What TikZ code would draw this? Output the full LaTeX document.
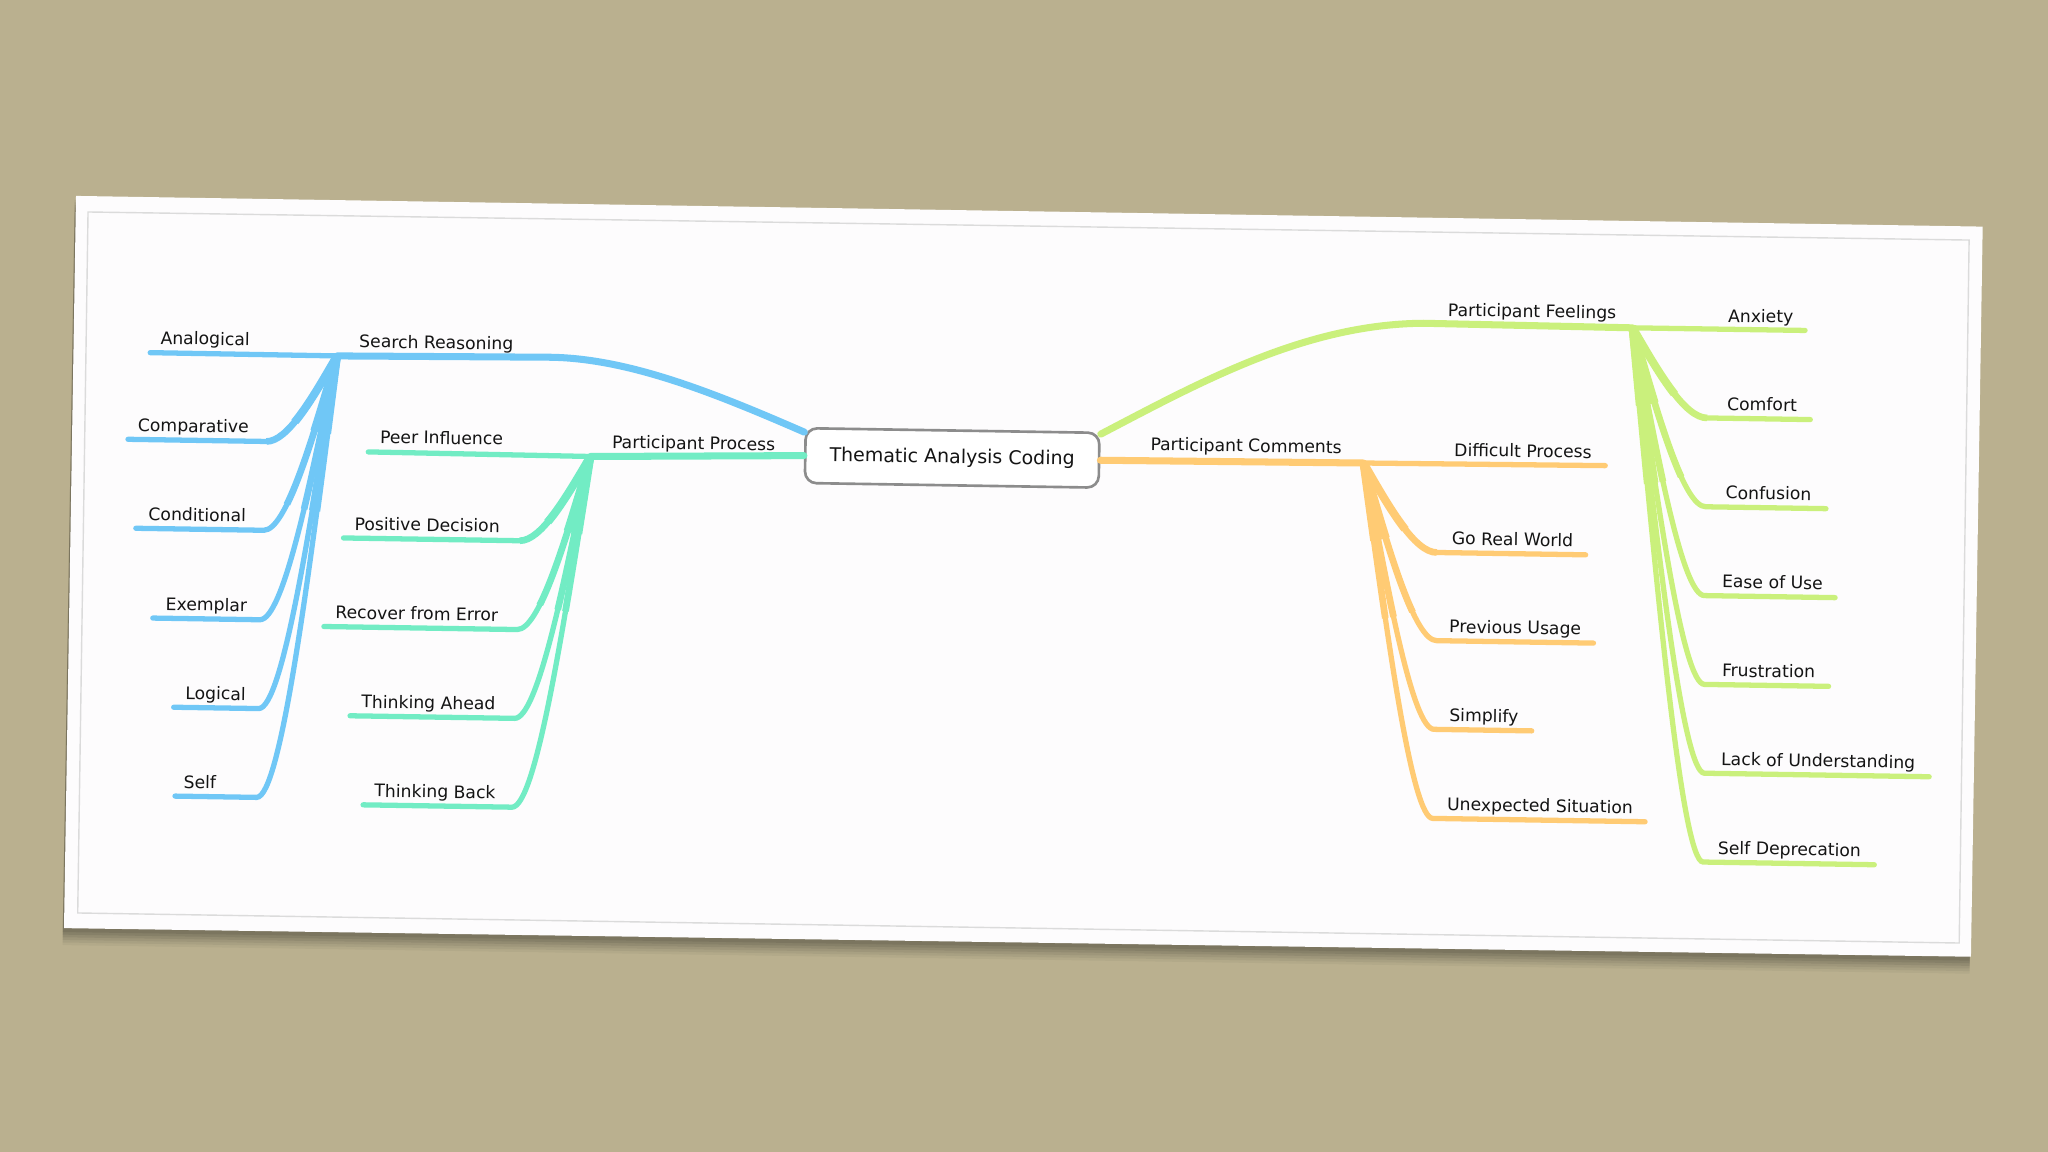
\documentclass[tikz,border=0pt]{standalone}
\usepackage{fontspec}
\setmainfont{DejaVu Sans}
\usetikzlibrary{positioning}

\definecolor{desk}{RGB}{186,176,143}
\definecolor{sheet}{RGB}{253,252,253}
\definecolor{sky}{RGB}{112,199,246}
\definecolor{mint}{RGB}{114,236,196}
\definecolor{lime}{RGB}{202,240,124}
\definecolor{peach}{RGB}{255,203,116}

\begin{document}
\begin{tikzpicture}[x=0.013061cm,y=-0.013061cm,
    topic/.style={font=\fontsize{4.9}{6}\selectfont,text=black!92,inner sep=0pt,anchor=base,rotate=-0.9},
    root/.style={draw=black!45,line width=0.75pt,rounded corners=3.3pt,fill=white,
      minimum width=83.6pt,minimum height=15.6pt,inner sep=0pt,rotate=-0.9,
      text=black!92,font=\fontsize{5.4}{6}\selectfont},
    trunk/.style={line width=2pt,line cap=round},
    twig/.style={line width=1.5pt,line cap=round}]

  % desk and sheet
  \fill[desk] (0,0) rectangle (1568,882);
  \useasboundingbox (0,0) rectangle (1568,882);
  \foreach \o/\a in {13/0.04,11/0.05,9/0.06,7/0.07,5/0.08,3/0.08}
    \fill[black,opacity=\a,shift={(-1,\o)}] (58.2,150) -- (1518,173.5) -- (1509,732.5) -- (49,710.6) -- cycle;
  \fill[sheet] (58.2,150) -- (1518,173.5) -- (1509,732.5) -- (49,710.6) -- cycle;
  \draw[black!14,line width=0.4pt] (67.4,162.3) -- (1507.6,183.8) -- (1500,722) -- (59.5,699) -- cycle;

  \node[root] (root) at (729,350.6) {Thematic Analysis Coding};

  % main branches
  \coordinate (sr) at (258,272.5);
  \coordinate (pp) at (452,349.5);
  \coordinate (pc) at (1044,354.5);
  \coordinate (pf) at (1250,251);
  \draw[trunk,sky] (root.171) .. controls (545,300) and (480,274) .. (420,273.5) -- (sr);
  \draw[trunk,mint] (root.west) -- (pp);
  \draw[trunk,peach] (root.east) -- (pc);
  \draw[trunk,lime] (root.10) .. controls (920,292) and (1000,248) .. (1090,247.5) -- (pf);
  \node[topic] (srl) at (334,267) {Search Reasoning};
  \node[topic] (ppl) at (531,344) {Participant Process};
  \node[topic] (pcl) at (954,346) {Participant Comments};
  \node[topic] (pfl) at (1173,243) {Participant Feelings};

  % first children run straight on
  \coordinate (sr0) at (115,270);
  \coordinate (pp0) at (282,346);
  \coordinate (pc0) at (1229,356.5);
  \coordinate (pf0) at (1382,253);
  \draw[twig,sky] (sr) -- (sr0);
  \draw[twig,mint] (pp) -- (pp0);
  \draw[twig,peach] (pc) -- (pc0);
  \draw[twig,lime] (pf) -- (pf0);
  \node[topic] (sr0l) at (157,264) {Analogical};
  \node[topic] (pp0l) at (338,340) {Peer Influence};
  \node[topic] (pc0l) at (1166,350) {Difficult Process};
  \node[topic] (pf0l) at (1348,247) {Anxiety};

  % Search Reasoning
  \foreach \txt/\y/\cx/\ex/\lx [count=\i] in {Comparative/338/204/98/148,
      Conditional/406/202/104/151, Exemplar/474.5/199/117/158,
      Logical/542.5/198/133/165, Self/610.5/196.5/134/153}{
    \coordinate (sr\i) at (\cx,\y);
    \coordinate (sr\i-end) at ({\ex},{\y+0.0157*(\ex-\cx)});
    \def\limb{(sr) .. controls ({258+0.35*(\cx-258)},{272.5+0.5*(\y-272.5)})
      and ({\cx+0.3*(258-\cx)},\y) .. (sr\i)}
    \draw[twig,sky] \limb -- (sr\i-end);
    \begin{scope} \clip (sr) circle (120); \draw[sky,line width=1.9pt] \limb; \end{scope}
    \begin{scope} \clip (sr) circle (60); \draw[sky,line width=2.3pt] \limb; \end{scope}
    \node[topic] (sr\i l) at ({\lx},{\y-6.2+0.0157*(\lx-\cx)}) {\txt};
  }

  % Participant Process
  \foreach \txt/\y/\cx/\ex/\lx [count=\i] in {Positive Decision/414/398/263/327,
      Recover from Error/482/396/248/319, Thinking Ahead/550/394/268/328,
      Thinking Back/618/392/278/333}{
    \coordinate (pp\i) at (\cx,\y);
    \coordinate (pp\i-end) at ({\ex},{\y+0.0157*(\ex-\cx)});
    \def\limb{(pp) .. controls ({452+0.35*(\cx-452)},{349.5+0.5*(\y-349.5)})
      and ({\cx+0.3*(452-\cx)},\y) .. (pp\i)}
    \draw[twig,mint] \limb -- (pp\i-end);
    \begin{scope} \clip (pp) circle (120); \draw[mint,line width=1.9pt] \limb; \end{scope}
    \begin{scope} \clip (pp) circle (60); \draw[mint,line width=2.3pt] \limb; \end{scope}
    \node[topic] (pp\i l) at ({\lx},{\y-6.2+0.0157*(\lx-\cx)}) {\txt};
  }

  % Participant Comments
  \foreach \txt/\y/\cx/\ex/\lx [count=\i] in {Go Real World/423/1100/1214/1158,
      Previous Usage/490.5/1100/1220/1160, Simplify/558.4/1098/1172.7/1136,
      Unexpected Situation/626.6/1097/1259.5/1179}{
    \coordinate (pc\i) at (\cx,\y);
    \coordinate (pc\i-end) at ({\ex},{\y+0.0157*(\ex-\cx)});
    \def\limb{(pc) .. controls ({1044+0.35*(\cx-1044)},{354.5+0.5*(\y-354.5)})
      and ({\cx+0.3*(1044-\cx)},\y) .. (pc\i)}
    \draw[twig,peach] \limb -- (pc\i-end);
    \begin{scope} \clip (pc) circle (120); \draw[peach,line width=1.9pt] \limb; \end{scope}
    \begin{scope} \clip (pc) circle (60); \draw[peach,line width=2.3pt] \limb; \end{scope}
    \node[topic] (pc\i l) at ({\lx},{\y-6.2+0.0157*(\lx-\cx)}) {\txt};
  }

  % Participant Feelings
  \foreach \txt/\y/\cx/\ex/\lx [count=\i] in {Comfort/320/1307/1386/1349,
      Confusion/388/1306/1398/1354, Ease of Use/456/1305/1405/1357,
      Frustration/524/1305/1400/1354, Lack of Understanding/592/1305/1477/1392,
      Self Deprecation/660/1304/1435/1370}{
    \coordinate (pf\i) at (\cx,\y);
    \coordinate (pf\i-end) at ({\ex},{\y+0.0157*(\ex-\cx)});
    \def\limb{(pf) .. controls ({1250+0.35*(\cx-1250)},{251+0.5*(\y-251)})
      and ({\cx+0.3*(1250-\cx)},\y) .. (pf\i)}
    \draw[twig,lime] \limb -- (pf\i-end);
    \begin{scope} \clip (pf) circle (120); \draw[lime,line width=1.9pt] \limb; \end{scope}
    \begin{scope} \clip (pf) circle (60); \draw[lime,line width=2.3pt] \limb; \end{scope}
    \node[topic] (pf\i l) at ({\lx},{\y-6.2+0.0157*(\lx-\cx)}) {\txt};
  }
\end{tikzpicture}
\end{document}
